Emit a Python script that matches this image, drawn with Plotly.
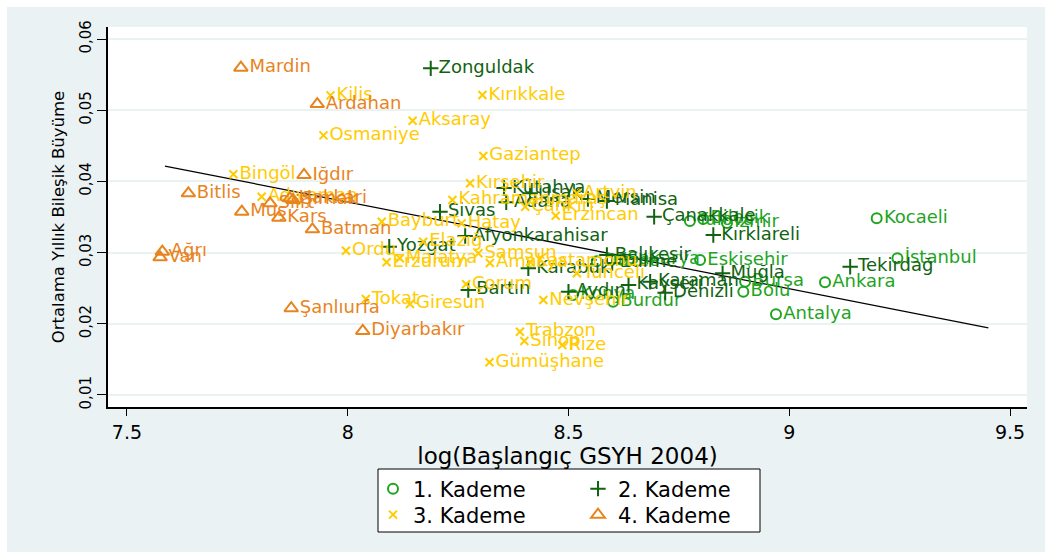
import plotly.graph_objects as go

# ---------------- data ----------------
tier1_names = ["Kocaeli", "İstanbul", "Ankara", "Antalya", "Bursa", "Bolu", "Eskişehir",
               "Yalova", "Bilecik", "İzmir", "Sakarya", "Düzce", "Konya", "Burdur"]
tier1_x = [9.198, 9.245, 9.081, 8.970, 8.900, 8.896, 8.798,
           8.775, 8.805, 8.859, 8.617, 8.564, 8.510, 8.601]
tier1_y = [0.03482, 0.02920, 0.02583, 0.02134, 0.02592, 0.02451, 0.02896,
           0.03444, 0.03472, 0.03416, 0.02907, 0.02880, 0.02405, 0.02310]

tier2_names = ["Zonguldak", "Kütahya", "Uşak", "Adana", "Mersin", "Manisa", "Sivas",
               "Çanakkale", "Kırklareli", "Afyonkarahisar", "Yozgat", "Balıkesir", "Edirne",
               "Karabük", "Muğla", "Tekirdağ", "Karaman", "Kayseri", "Denizli", "Aydın", "Bartın"]
tier2_x = [8.188, 8.354, 8.413, 8.359, 8.544, 8.587, 8.209,
           8.694, 8.828, 8.266, 8.094, 8.587, 8.599,
           8.409, 8.849, 9.138, 8.685, 8.636, 8.719, 8.500, 8.273]
tier2_y = [0.05588, 0.03907, 0.03833, 0.03706, 0.03753, 0.03725, 0.03574,
           0.03504, 0.03247, 0.03233, 0.03083, 0.02966, 0.02854,
           0.02779, 0.02709, 0.02802, 0.02591, 0.02545, 0.02437, 0.02451, 0.02475]

tier3_names = ["Kilis", "Aksaray", "Osmaniye", "Kırıkkale", "Gaziantep", "Bingöl", "Kırşehir",
               "Kahramanmaraş", "Adıyaman", "Artvin", "Çankırı", "Erzincan", "Bayburt", "Hatay",
               "Elazığ", "Ordu", "Malatya", "Erzurum", "Samsun", "Amasya", "Kastamonu", "Tunceli",
               "Çorum", "Nevşehir", "Tokat", "Giresun", "Trabzon", "Sinop", "Rize", "Gümüşhane"]
tier3_x = [7.961, 8.147, 7.945, 8.305, 8.307, 7.741, 8.277,
           8.237, 7.805, 8.519, 8.402, 8.471, 8.077, 8.258,
           8.171, 7.996, 8.118, 8.088, 8.296, 8.322, 8.413, 8.519,
           8.268, 8.443, 8.041, 8.141, 8.390, 8.400, 8.486, 8.321]
tier3_y = [0.05209, 0.04853, 0.04647, 0.05213, 0.04357, 0.04100, 0.03973,
           0.03739, 0.03785, 0.03833, 0.03645, 0.03518, 0.03434, 0.03411,
           0.03153, 0.03027, 0.02920, 0.02864, 0.02990, 0.02854, 0.02868, 0.02709,
           0.02555, 0.02334, 0.02348, 0.02278, 0.01889, 0.01758, 0.01702, 0.01459]

tier4_names = ["Mardin", "Ardahan", "Iğdır", "Bitlis", "Hakkari", "Şırnak", "Siirt", "Muş",
               "Kars", "Batman", "Ağrı", "Van", "Şanlıurfa", "Diyarbakır"]
tier4_x = [7.758, 7.931, 7.901, 7.639, 7.869, 7.876, 7.824, 7.760,
           7.844, 7.920, 7.580, 7.575, 7.872, 8.034]
tier4_y = [0.05597, 0.05087, 0.04090, 0.03833, 0.03763, 0.03739, 0.03692, 0.03574,
           0.03490, 0.03327, 0.03013, 0.02934, 0.02218, 0.01899]

fit_x = [7.586, 9.451]
fit_y = [0.04216, 0.01941]

x_tick_vals = [7.5, 8, 8.5, 9, 9.5]
x_tick_labels = ["7.5", "8", "8.5", "9", "9.5"]
y_tick_vals = [0.01, 0.02, 0.03, 0.04, 0.05, 0.06]
y_tick_labels = ["0,01", "0,02", "0,03", "0,04", "0,05", "0,06"]

series_names = ["1. Kademe", "2. Kademe", "3. Kademe", "4. Kademe"]

# ---------------- style ----------------
FONT = "DejaVu Sans"
BG = "#eaf2f3"
C1 = "#1fa41f"
C2 = "#116311"
C3 = "#ffcc00"
C4 = "#e8841e"
LABEL_SIZE = 18

fig = go.Figure()

fig.add_trace(go.Scatter(x=fit_x, y=fit_y, mode="lines",
                         line=dict(color="black", width=1.3),
                         showlegend=False, hoverinfo="skip"))

groups = [
    (tier1_names, tier1_x, tier1_y, C1, "circle-open", 10, "legend"),
    (tier2_names, tier2_x, tier2_y, C2, "cross-thin-open", 11, "legend"),
    (tier3_names, tier3_x, tier3_y, C3, "x-thin-open", 8, "legend2"),
    (tier4_names, tier4_x, tier4_y, C4, "triangle-up-open", 12, "legend2"),
]
for (names, xs, ys, col, sym, sz, leg), nm in zip(groups, series_names):
    fig.add_trace(go.Scatter(
        x=xs, y=ys, text=names, mode="markers+text", name=nm,
        textposition="middle right",
        textfont=dict(family=FONT, size=LABEL_SIZE, color=col),
        marker=dict(symbol=sym, size=sz, color=col, line=dict(color=col, width=2)),
        cliponaxis=False, legend=leg,
    ))

# plot area in pixels: x 108..1027, y 27..407
L, R, T, B = 108, 18, 27, 145
W, H = 1045, 552
pw, ph = W - L - R, H - T - B


def px_x(p):
    return (p - L) / pw


def px_y(p):
    return (H - B - p) / ph


fig.update_layout(
    width=W, height=H,
    margin=dict(l=L, r=R, t=T, b=B, autoexpand=False),
    paper_bgcolor=BG, plot_bgcolor="white",
    font=dict(family=FONT, color="black"),
    xaxis=dict(range=[7.457, 9.5385], tickvals=x_tick_vals, ticktext=x_tick_labels,
               ticks="outside", ticklen=7, tickwidth=1.3, tickcolor="black",
               showline=True, linecolor="black", linewidth=1.5, mirror=False,
               showgrid=False, zeroline=False, tickfont=dict(size=19),
               title=dict(text="log(Başlangıç GSYH 2004)", font=dict(size=23), standoff=2),
               automargin=False),
    yaxis=dict(range=[0.00831, 0.06169], tickvals=y_tick_vals, ticktext=y_tick_labels,
               tickangle=-90, ticks="outside", ticklen=9, tickwidth=1.3, tickcolor="black",
               showline=True, linecolor="black", linewidth=1.5,
               showgrid=True, gridcolor=BG, gridwidth=1.6, zeroline=False,
               tickfont=dict(size=15),
               title=dict(text="Ortalama Yıllık Bileşik Büyüme", font=dict(size=16.5), standoff=8),
               automargin=False),
    legend=dict(orientation="h", x=px_x(373), xanchor="left", y=px_y(489), yanchor="middle",
                bgcolor="rgba(0,0,0,0)", borderwidth=0, font=dict(size=21),
                entrywidth=160, entrywidthmode="pixels", itemclick=False),
    legend2=dict(orientation="h", x=px_x(373), xanchor="left", y=px_y(515), yanchor="middle",
                 bgcolor="rgba(0,0,0,0)", borderwidth=0, font=dict(size=21),
                 entrywidth=160, entrywidthmode="pixels", itemclick=False),
    shapes=[
        dict(type="rect", xref="paper", yref="paper", x0=px_x(378), x1=px_x(760),
             y0=px_y(532), y1=px_y(469), fillcolor="white",
             line=dict(color="black", width=1), layer="above"),
        dict(type="rect", xref="paper", yref="paper", x0=px_x(-5), x1=px_x(1050),
             y0=px_y(7), y1=px_y(-5), fillcolor="white", line=dict(width=0), layer="above"),
        dict(type="rect", xref="paper", yref="paper", x0=px_x(-5), x1=px_x(7),
             y0=px_y(560), y1=px_y(-5), fillcolor="white", line=dict(width=0), layer="above"),
    ],
)

fig.write_html("out.html", config={"displayModeBar": False},
               post_script="document.body.style.margin='0';document.body.style.overflow='hidden';")
